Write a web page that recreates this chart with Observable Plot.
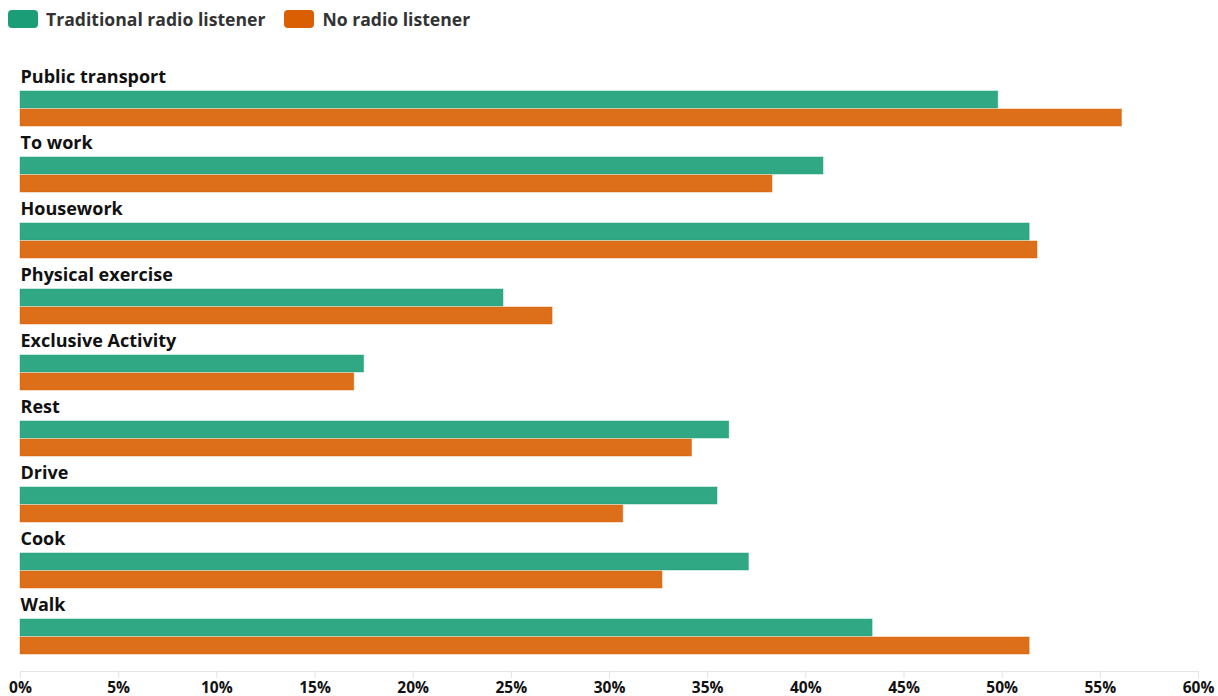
<!DOCTYPE html>
<html>
<head>
<meta charset="utf-8">
<script src="https://cdn.jsdelivr.net/npm/d3@7"></script>
<script src="https://cdn.jsdelivr.net/npm/@observablehq/plot@0.6"></script>
<style>
  html, body { margin: 0; padding: 0; background: #fff; }
  body { width: 1218px; height: 696px; overflow: hidden; font-family: "Open Sans", Lato, sans-serif; }
  #legend { height: 38px; display: flex; align-items: center; padding-left: 8px; box-sizing: border-box; }
  .item { display: flex; align-items: center; margin-right: 19px; font-weight: 700; font-size: 17.6px; color: #333; }
  .sw { width: 30px; height: 18px; border-radius: 4px; margin-right: 8px; }
</style>
</head>
<body>
<div id="legend"></div>
<div id="chart"></div>
<script>
const categories = ["Public transport", "To work", "Housework", "Physical exercise", "Exclusive Activity", "Rest", "Drive", "Cook", "Walk"];
const series = ["Traditional radio listener", "No radio listener"];
const traditional = [49.8, 40.9, 51.4, 24.6, 17.5, 36.1, 35.5, 37.1, 43.4];
const noRadio = [56.1, 38.3, 51.8, 27.1, 17.0, 34.2, 30.7, 32.7, 51.4];
const colors = ["#1b9e77", "#d95f02"];
const xTicks = [0, 5, 10, 15, 20, 25, 30, 35, 40, 45, 50, 55, 60];

const data = [];
categories.forEach((c, i) => {
  data.push({category: c, series: series[0], value: traditional[i]});
  data.push({category: c, series: series[1], value: noRadio[i]});
});

const legend = document.getElementById("legend");
series.forEach((s, i) => {
  const it = document.createElement("div");
  it.className = "item";
  const sw = document.createElement("span");
  sw.className = "sw";
  sw.style.background = colors[i];
  it.appendChild(sw);
  it.appendChild(document.createTextNode(s));
  legend.appendChild(it);
});

const chart = Plot.plot({
  width: 1218,
  height: 658,
  marginTop: 39,
  marginBottom: 25,
  marginLeft: 20,
  marginRight: 20,
  style: {fontFamily: "'Open Sans', Lato, sans-serif", fontSize: "15px", background: "#fff"},
  x: {domain: [0, 60], axis: null},
  y: {domain: series, axis: null, insetTop: 14, insetBottom: 16, paddingInner: 0.04, paddingOuter: 0},
  fy: {domain: categories, axis: null, padding: 0},
  color: {domain: series, range: colors},
  marks: [
    Plot.barX(data, {fy: "category", y: "series", x: "value", fill: "series", fillOpacity: 0.9, stroke: "series", strokeOpacity: 0.45, strokeWidth: 1}),
    Plot.text(categories, {fy: d => d, text: d => d, frameAnchor: "top-left", lineAnchor: "middle", textAnchor: "start", fontWeight: 700, fontSize: 18, fill: "#111"}),
    Plot.frame({anchor: "bottom", facetAnchor: "bottom", stroke: "#e6e6e6"}),
    Plot.axisX(xTicks, {anchor: "bottom", facetAnchor: "bottom", tickSize: 7, tickPadding: 3, stroke: "#e3e3e3", fill: "#111", fontWeight: 700, fontSize: 15.5, tickFormat: d => d + "%", label: null})
  ]
});
document.getElementById("chart").appendChild(chart);
</script>
</body>
</html>
